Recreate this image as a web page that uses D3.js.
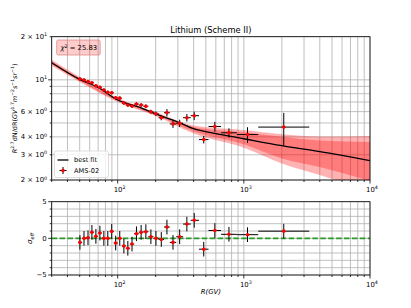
<!DOCTYPE html>
<html>
<head>
<meta charset="utf-8">
<script src="https://cdn.jsdelivr.net/npm/d3@7"></script>
<style>
  body { margin: 0; background: #fff; }
  svg { display: block; font-family: "DejaVu Sans", sans-serif; }
</style>
</head>
<body>
<svg id="chart" width="411" height="308"></svg>
<script>
// AMS-02 lithium points: bin edges, centres, flux (R^2.7 weighted) and errors
const binEdges = [48.5, 52.2, 56.1, 60.3, 64.8, 69.7, 74.9, 80.5, 86.5, 93.0, 100, 108, 116, 125, 135,
  147, 160, 175, 192, 211, 233, 259, 291, 330, 379, 441, 525, 660, 880, 1300, 3300];
const rigidity = [50.2, 54.1, 58.2, 62.5, 67.2, 72.3, 77.7, 83.5, 89.7, 96.4, 103.9, 112, 120.4, 129.9, 140.9,
  153.4, 167.3, 183.4, 201, 221.7, 245.7, 274.5, 310, 353.6, 404.3, 481, 589, 762, 1069, 2072];
const flux = [10.14, 9.98, 9.71, 9.55, 9.10, 8.87, 8.49, 8.19, 8.13, 7.50, 7.45, 6.89, 6.67, 6.57, 6.78,
  6.67, 6.54, 5.99, 5.80, 5.44, 5.90, 4.92, 4.98, 5.44, 5.62, 3.83, 4.72, 4.27, 4.15, 4.68];
const fluxErr = [0.27, 0.26, 0.26, 0.25, 0.24, 0.23, 0.22, 0.22, 0.21, 0.2, 0.2, 0.19, 0.19, 0.19, 0.19,
  0.19, 0.2, 0.2, 0.21, 0.22, 0.35, 0.3, 0.29, 0.33, 0.38, 0.23, 0.37, 0.32, 0.52, 1.2];
const residual = [-0.55, 0, 0.08, 0.82, 0.27, 0.72, 0, 0, 0.95, -0.64, 0, -1.05, -1.36, -0.78, 0.63,
  0.82, 0.91, 0.22, 0, -0.15, 1.54, -0.55, 0.22, 1.95, 2.46, -1.48, 1.07, 0.55, 0.5, 0.98];

// best fit curve and its 1 sigma / 2 sigma bands
const fitR = [30, 50, 70, 100, 150, 200, 300, 400, 600, 1000, 2000, 4000, 10000];
const fitFlux = [13.17, 10.08, 8.85, 7.23, 6.42, 5.78, 5.08, 4.56, 4.22, 3.88, 3.47, 3.15, 2.73];
const bandR = [30, 50, 100, 200, 400, 1000, 2000, 4000, 10000];
const band1Lo = [12.86, 9.86, 7.12, 5.68, 4.36, 3.55, 2.83, 2.46, 1.97];
const band1Hi = [13.49, 10.25, 7.35, 5.87, 4.69, 4.30, 4.01, 3.77, 3.68];
const band2Lo = [12.55, 9.66, 7.00, 5.59, 4.22, 3.36, 2.61, 2.17, 1.65];
const band2Hi = [13.82, 10.47, 7.47, 5.96, 4.80, 4.47, 4.17, 4.02, 4.06];

const chi2 = "25.83";
const title = "Lithium (Scheme II)";

const svg = d3.select("#chart");
const left = 51.7, right = 370, topT = 36.7, botT = 180, topB = 201.7, botB = 275;
const gridColor = "#b0b0b0";
const fs = 6.9;

const x = d3.scaleLog().domain([30, 1e4]).range([left, right]);
const yT = d3.scaleLog().domain([2, 20]).range([botT, topT]);
const yB = d3.scaleLinear().domain([-5, 5]).range([botB, topB]);

const xTicks = x.ticks();              // 30..90, 100..900, ... 10000
const xMajor = [100, 1000, 10000];
const yTicks = yT.ticks();             // 2..9, 10, 20
const yBTicks = d3.range(-5, 6);

const defs = svg.append("defs");
defs.append("clipPath").attr("id", "clipT")
  .append("rect").attr("x", left).attr("y", topT).attr("width", right - left).attr("height", botT - topT);
defs.append("clipPath").attr("id", "clipB")
  .append("rect").attr("x", left).attr("y", topB).attr("width", right - left).attr("height", botB - topB);

// ---------- grids ----------
function drawGrid(y0, y1, yVals, yScale) {
  const g = svg.append("g").attr("stroke", gridColor).attr("stroke-width", 0.8);
  g.selectAll(".vx").data(xTicks).enter().append("line")
    .attr("x1", d => x(d)).attr("x2", d => x(d)).attr("y1", y0).attr("y2", y1);
  g.selectAll(".hy").data(yVals).enter().append("line")
    .attr("x1", left).attr("x2", right).attr("y1", d => yScale(d)).attr("y2", d => yScale(d));
}
drawGrid(topT, botT, yTicks, yT);
drawGrid(topB, botB, yBTicks, yB);

// ---------- top panel ----------
const topPanel = svg.append("g").attr("clip-path", "url(#clipT)");

const area = (lo, hi) => d3.area()
  .curve(d3.curveMonotoneX)
  .x((d, i) => x(bandR[i]))
  .y0((d, i) => yT(lo[i]))
  .y1((d, i) => yT(hi[i]));

topPanel.append("path").datum(bandR).attr("d", area(band2Lo, band2Hi))
  .attr("fill", "red").attr("fill-opacity", 0.3);
topPanel.append("path").datum(bandR).attr("d", area(band1Lo, band1Hi))
  .attr("fill", "red").attr("fill-opacity", 0.3);

topPanel.append("path").datum(fitR)
  .attr("d", d3.line().curve(d3.curveMonotoneX).x(d => x(d)).y((d, i) => yT(fitFlux[i])))
  .attr("fill", "none").attr("stroke", "#000").attr("stroke-width", 1.3);

function drawPoints(g, yScale, vals, errs) {
  const pts = g.append("g");
  pts.selectAll(".ev").data(rigidity).enter().append("line")
    .attr("x1", d => x(d)).attr("x2", d => x(d))
    .attr("y1", (d, i) => yScale(vals[i] - errs[i]))
    .attr("y2", (d, i) => yScale(vals[i] + errs[i]))
    .attr("stroke", "#000").attr("stroke-width", 1);
  pts.selectAll(".eh").data(rigidity).enter().append("line")
    .attr("x1", (d, i) => x(binEdges[i])).attr("x2", (d, i) => x(binEdges[i + 1]))
    .attr("y1", (d, i) => yScale(vals[i])).attr("y2", (d, i) => yScale(vals[i]))
    .attr("stroke", "#000").attr("stroke-width", 1);
  pts.selectAll(".pt").data(rigidity).enter().append("circle")
    .attr("cx", d => x(d)).attr("cy", (d, i) => yScale(vals[i])).attr("r", 1.8)
    .attr("fill", "#ff0000");
}
drawPoints(topPanel, yT, flux, fluxErr);

// ---------- bottom panel ----------
const botPanel = svg.append("g").attr("clip-path", "url(#clipB)");
botPanel.append("line")
  .attr("x1", left).attr("x2", right).attr("y1", yB(0)).attr("y2", yB(0))
  .attr("stroke", "#2a9a2a").attr("stroke-width", 1.6).attr("stroke-dasharray", "5.5,2.4");
drawPoints(botPanel, yB, residual, residual.map(() => 1));

// ---------- spines & ticks ----------
[[topT, botT], [topB, botB]].forEach(([y0, y1]) => {
  svg.append("rect").attr("x", left).attr("y", y0).attr("width", right - left).attr("height", y1 - y0)
    .attr("fill", "none").attr("stroke", "#000").attr("stroke-width", 0.8);
  svg.append("g").selectAll("line").data(xTicks).enter().append("line")
    .attr("x1", d => x(d)).attr("x2", d => x(d))
    .attr("y1", y1).attr("y2", d => y1 + (xMajor.includes(d) ? 3.5 : 2))
    .attr("stroke", "#000").attr("stroke-width", 0.8);
});
svg.append("g").selectAll("line").data(yTicks).enter().append("line")
  .attr("x1", d => left - (d === 10 ? 3.5 : 2)).attr("x2", left)
  .attr("y1", d => yT(d)).attr("y2", d => yT(d))
  .attr("stroke", "#000").attr("stroke-width", 0.8);
svg.append("g").selectAll("line").data(yBTicks).enter().append("line")
  .attr("x1", d => left - (d % 5 === 0 ? 3.5 : 2)).attr("x2", left)
  .attr("y1", d => yB(d)).attr("y2", d => yB(d))
  .attr("stroke", "#000").attr("stroke-width", 0.8);

// tick labels with superscript exponents
function powLabel(g, px, py, anchor, mant, exp, size) {
  const t = g.append("text").attr("x", px).attr("y", py).attr("text-anchor", anchor)
    .attr("font-size", size).attr("fill", "#000");
  t.append("tspan").text(mant ? mant + " \u00d7 10" : "10");
  t.append("tspan").attr("dy", -size * 0.4).attr("font-size", size * 0.7).text(exp);
}
const lab = svg.append("g");
const yLabels = [[20, "2", "1"], [10, null, "1"], [6, "6", "0"], [4, "4", "0"], [3, "3", "0"], [2, "2", "0"]];
yLabels.forEach(([v, m, e]) => powLabel(lab, left - 4.5, yT(v) + 2.4, "end", m, e, fs));
xMajor.forEach(v => {
  const e = String(Math.round(Math.log10(v)));
  powLabel(lab, x(v) + 2, botT + 12, "middle", null, e, fs);
  powLabel(lab, x(v) + 2, botB + 12, "middle", null, e, fs);
});
[-5, 0, 5].forEach(v => {
  lab.append("text").attr("x", left - 5).attr("y", yB(v) + 2.4).attr("text-anchor", "end")
    .attr("font-size", fs).text(v < 0 ? "\u2212" + Math.abs(v) : v);
});

// axis labels and title
svg.append("text").attr("x", (left + right) / 2).attr("y", 32.5).attr("text-anchor", "middle")
  .attr("font-size", 8.3).text(title);

const yl = svg.append("text").attr("transform", `translate(16.5,${(topT + botT) / 2}) rotate(-90)`)
  .attr("text-anchor", "middle").attr("font-size", 6.5);
yl.append("tspan").attr("font-style", "italic").text("R");
yl.append("tspan").attr("dy", -2.5).attr("font-size", 4.6).text("2.7");
yl.append("tspan").attr("dy", 2.5).text("dN/dR(");
yl.append("tspan").attr("font-style", "italic").text("GV");
yl.append("tspan").attr("dy", -2.5).attr("font-size", 4.6).text("1.7");
yl.append("tspan").attr("dy", 2.5).attr("font-style", "italic").text("m");
yl.append("tspan").attr("dy", -2.5).attr("font-size", 4.6).text("\u22122");
yl.append("tspan").attr("dy", 2.5).attr("font-style", "italic").text("s");
yl.append("tspan").attr("dy", -2.5).attr("font-size", 4.6).text("\u22121");
yl.append("tspan").attr("dy", 2.5).attr("font-style", "italic").text("sr");
yl.append("tspan").attr("dy", -2.5).attr("font-size", 4.6).text("\u22121");
yl.append("tspan").attr("dy", 2.5).text(")");

const sl = svg.append("text").attr("transform", `translate(32,${yB(0)}) rotate(-90)`)
  .attr("text-anchor", "middle").attr("font-size", 7);
sl.append("tspan").attr("font-style", "italic").text("\u03c3");
sl.append("tspan").attr("dy", 1.8).attr("font-size", 5).attr("font-style", "italic").text("eff");

svg.append("text").attr("x", (left + right) / 2).attr("y", 293.5).attr("text-anchor", "middle")
  .attr("font-size", fs).attr("font-style", "italic").text("R(GV)");

// chi-square box
svg.append("rect").attr("x", 56.7).attr("y", 40).attr("width", 43.5).attr("height", 15).attr("rx", 1.5)
  .attr("fill", "#ff0000").attr("fill-opacity", 0.2).attr("stroke", "#e08a8a").attr("stroke-width", 0.8);
const ct = svg.append("text").attr("x", 60.5).attr("y", 50.2).attr("font-size", 6.8);
ct.append("tspan").attr("font-style", "italic").text("\u03c7");
ct.append("tspan").attr("dy", -2.6).attr("font-size", 4.8).text("2");
ct.append("tspan").attr("dy", 2.6).text(" = " + chi2);

// legend
const lg = svg.append("g");
lg.append("rect").attr("x", 54.5).attr("y", 151).attr("width", 54).attr("height", 26.5).attr("rx", 2)
  .attr("fill", "#fff").attr("fill-opacity", 0.8).attr("stroke", "#d5d5d5").attr("stroke-width", 0.8);
lg.append("line").attr("x1", 57.5).attr("x2", 68.5).attr("y1", 160).attr("y2", 160)
  .attr("stroke", "#000").attr("stroke-width", 1.3);
lg.append("text").attr("x", 74).attr("y", 162.3).attr("font-size", 6.6).text("best fit");
lg.append("line").attr("x1", 59.5).attr("x2", 66.5).attr("y1", 170.5).attr("y2", 170.5)
  .attr("stroke", "#000").attr("stroke-width", 1);
lg.append("line").attr("x1", 63).attr("x2", 63).attr("y1", 167).attr("y2", 174)
  .attr("stroke", "#000").attr("stroke-width", 1);
lg.append("circle").attr("cx", 63).attr("cy", 170.5).attr("r", 1.8).attr("fill", "#ff0000");
lg.append("text").attr("x", 74).attr("y", 172.8).attr("font-size", 6.6).text("AMS-02");
</script>
</body>
</html>
